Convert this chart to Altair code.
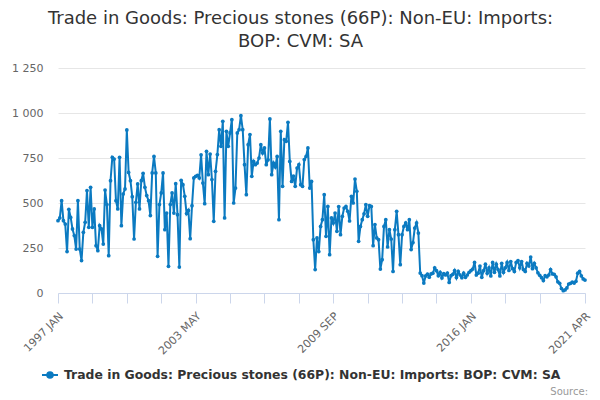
import altair as alt
import pandas as pd

# monthly imports, 1997 JAN .. 2021 APR
imports = [
    402, 417, 513, 402, 383, 230, 465, 420, 356, 319, 244, 513,  # 1997
    244, 180, 337, 393, 569, 365, 587, 365, 467, 263, 235, 374,  # 1998
    356, 272, 572, 491, 207, 624, 754, 744, 513, 467, 754, 374,  # 1999
    550, 578, 906, 670, 624, 535, 300, 504, 606, 467, 624, 665,  # 2000
    587, 541, 513, 430, 667, 759, 667, 204, 491, 556, 667, 352,  # 2001
    444, 148, 491, 556, 444, 607, 435, 144, 626, 602, 537, 441,  # 2002
    459, 302, 485, 639, 648, 654, 639, 768, 611, 496, 787, 657,  # 2003
    772, 630, 398, 676, 769, 907, 815, 954, 417, 898, 815, 889,  # 2004
    963, 500, 583, 889, 907, 985, 907, 713, 546, 824, 880, 648,  # 2005
    731, 713, 722, 750, 824, 778, 806, 713, 740, 967, 657, 722,  # 2006
    700, 759, 407, 898, 593, 852, 843, 948, 731, 620, 650, 593,  # 2007
    694, 713, 602, 593, 741, 759, 806, 583, 620, 296, 130, 306,  # 2008
    230, 370, 407, 546, 315, 481, 213, 417, 389, 444, 343, 480,  # 2009
    324, 426, 472, 481, 454, 400, 537, 500, 633, 565, 287, 370,  # 2010
    407, 440, 491, 426, 485, 481, 263, 380, 306, 296, 133, 185,  # 2011
    370, 407, 256, 352, 300, 120, 352, 454, 324, 157, 324, 370,  # 2012
    389, 352, 407, 241, 280, 361, 389, 333, 111, 96, 55, 95,  # 2013
    105, 88, 106, 110, 140, 124, 96, 115, 84, 108, 100, 111,  # 2014
    59, 96, 104, 125, 86, 120, 100, 85, 110, 87, 100, 115,  # 2015
    124, 133, 170, 100, 110, 150, 87, 124, 160, 110, 140, 95,  # 2016
    170, 115, 160, 130, 95, 165, 115, 140, 170, 125, 175, 135,  # 2017
    120, 170, 180, 140, 175, 130, 120, 165, 150, 200, 135, 165,  # 2018
    140, 112, 98, 85, 69, 96, 90, 100, 130, 106, 104, 90,  # 2019
    62, 54, 25, 13, 17, 28, 50, 54, 60, 55, 65, 110,  # 2020
    120, 95, 78, 72,  # 2021
]

series_name = 'Trade in Goods: Precious stones (66P): Non-EU: Imports: BOP: CVM: SA'
title_lines = ['Trade in Goods: Precious stones (66P): Non-EU: Imports:', 'BOP: CVM: SA']
label_months = ['1997 JAN', '2003 MAY', '2009 SEP', '2016 JAN', '2021 APR']
y_ticks = [0, 250, 500, 750, 1000, 1250]
source_text = ['Source:']

BLUE = '#0b7ac1'
FONT = 'DejaVu Sans'

months = pd.date_range('1997-01-01', periods=len(imports), freq='MS').strftime('%Y %b').str.upper().tolist()
df = pd.DataFrame({'month': months, 'value': imports, 'series': series_name})

# a tick every 19 months, plus the last month
tick_months = months[0:267:19] + [months[-1]]
label_expr = "indexof([" + ",".join("'%s'" % m for m in label_months) + "], datum.value) >= 0 ? datum.value : ''"

legend_symbol = 'M-1,0L1,0M-0.35,0A0.35,0.35,0,1,0,0.35,0A0.35,0.35,0,1,0,-0.35,0Z'

line = alt.Chart(df).mark_line(
    strokeWidth=2, point=alt.OverlayMarkDef(filled=True, size=14, color=BLUE)).encode(
    x=alt.X('month:O', sort=months, scale=alt.Scale(type='point', padding=0),
            axis=alt.Axis(values=tick_months, labelExpr=label_expr, labelAngle=-45, labelOverlap=False,
                          tickSize=10, tickColor='#ccd6eb', domainColor='#ccd6eb', labelColor='#666666',
                          labelFont=FONT, labelFontSize=11, labelPadding=7, labelOffset=-1,
                          grid=False, title=None)),
    y=alt.Y('value:Q', scale=alt.Scale(domain=[0, 1250], nice=False),
            axis=alt.Axis(values=y_ticks, labelExpr="replace(format(datum.value, ','), ',', ' ')",
                          domain=False, ticks=False, gridColor='#e6e6e6', labelColor='#666666',
                          labelFont=FONT, labelFontSize=11, labelPadding=15, title=None)),
    color=alt.Color('series:N', scale=alt.Scale(range=[BLUE]),
                    legend=alt.Legend(orient='none', legendX=-17, legendY=298, title=None,
                                      direction='horizontal', labelFont=FONT, labelFontSize=12.4,
                                      labelFontWeight='bold', labelColor='#333333', labelLimit=600,
                                      labelOffset=5, symbolType=legend_symbol, symbolSize=256,
                                      symbolStrokeWidth=2, symbolFillColor=BLUE, symbolStrokeColor=BLUE))
)

source = alt.Chart(pd.DataFrame({'t': source_text})).mark_text(
    align='right', baseline='middle', font=FONT, fontSize=10, color='#999999').encode(
    text='t:N', x=alt.value(530), y=alt.value(324))

chart = alt.layer(line, source).properties(
    width=527, height=225,
    title=alt.TitleParams(text=title_lines, font=FONT, fontSize=18, fontWeight='normal', color='#333333',
                          anchor='middle', dx=-21, offset=11, lineHeight=23),
    autosize=alt.AutoSizeParams(type='none'),
    padding={'left': 50, 'top': 60, 'right': 7, 'bottom': 107}
).configure_view(stroke=None)

chart.save('out.html', embed_options={'renderer': 'svg', 'actions': False})
